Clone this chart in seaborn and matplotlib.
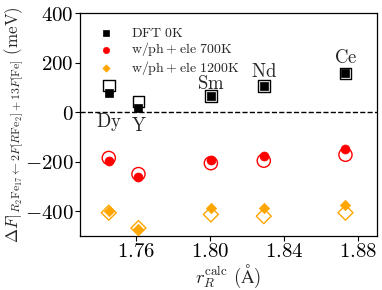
import pandas as pd
import seaborn as sns
import matplotlib
matplotlib.use("Agg")
import matplotlib.pyplot as plt
from matplotlib.ticker import FuncFormatter

# values
elements = ['Dy', 'Y', 'Sm', 'Nd', 'Ce']
r_calc = [1.7455, 1.7615, 1.8005, 1.829, 1.873]

dft_filled = [77, 16, 64, 106, 156]
dft_open = [108, 43, 64, 106, 156]
ph700_filled = [-196, -261, -193, -176, -148]
ph700_open = [-185, -250, -206, -196, -172]
ph1200_filled = [-401, -470, -386, -386, -375]
ph1200_open = [-406, -468, -413, -420, -406]

xticks = [1.76, 1.80, 1.84, 1.88]
yticks = [-400, -200, 0, 200, 400]

sns.set_style("ticks")
plt.rcParams['font.family'] = 'serif'
plt.rcParams['mathtext.fontset'] = 'cm'

fig, ax = plt.subplots(figsize=(3.82, 2.90), dpi=100)
fig.subplots_adjust(left=0.2094, right=0.987, top=0.955, bottom=0.1862)

ax.axhline(0, color='black', ls='--', lw=1.0, zorder=0)

series = [
    (dft_open, dft_filled, 's', 'black', 70, 38, r'$\mathrm{DFT\ 0K}$'),
    (ph700_open, ph700_filled, 'o', 'red', 90, 42, r'$\mathrm{w/ph+ele\ 700K}$'),
    (ph1200_open, ph1200_filled, 'D', 'orange', 58, 28, r'$\mathrm{w/ph+ele\ 1200K}$'),
]

handles = []
for open_vals, filled_vals, mk, col, s_open, s_filled, lab in series:
    df = pd.DataFrame({'r': r_calc, 'open': open_vals, 'filled': filled_vals})
    sns.scatterplot(data=df, x='r', y='open', marker=mk, s=s_open,
                    facecolors='none', edgecolor=col, linewidth=1.0, ax=ax, zorder=3)
    sns.scatterplot(data=df, x='r', y='filled', marker=mk, s=s_filled,
                    color=col, edgecolor=col, linewidth=0.5, ax=ax, zorder=4)
    handles.append(ax.collections[-1])
    handles[-1].set_label(lab)

# element names next to the DFT points
offsets = {'Dy': -21, 'Y': -12.5, 'Sm': 8.5, 'Nd': 10, 'Ce': 11}
for el, x, y in zip(elements, r_calc, dft_filled):
    ax.annotate(r'$\mathrm{%s}$' % el, xy=(x, y), xytext=(0, offsets[el]),
                textcoords='offset points', ha='center', va='center', fontsize=13.5)

ax.legend(handles=handles, loc='upper left', frameon=False, fontsize=10,
          markerscale=0.7, handletextpad=0.8, borderaxespad=0.5, labelspacing=0.05)

ax.set_xlim(1.73, 1.89)
ax.set_ylim(-500, 400)
ax.set_xticks(xticks)
ax.set_yticks(yticks)
ax.xaxis.set_major_formatter(FuncFormatter(lambda v, p: r'$%.2f$' % v))
ax.yaxis.set_major_formatter(FuncFormatter(lambda v, p: r'$%d$' % v))
ax.tick_params(labelsize=15, direction='out', length=3.5, width=0.8, pad=1, colors='black')
for sp in ax.spines.values():
    sp.set_visible(True)
    sp.set_color('black')
    sp.set_linewidth(0.9)

ax.set_xlabel(r'$r_R^{\mathrm{calc}}\ (\mathrm{\AA})$', fontsize=13.5, labelpad=1)
ax.set_ylabel(r'$\Delta F|_{R_2\mathrm{Fe}_{17}\leftarrow 2F[R\mathrm{Fe}_2]+13F[\mathrm{Fe}]}\ (\mathrm{meV})$',
              fontsize=12.2)
ax.yaxis.set_label_coords(-0.185, 0.5)

fig.savefig('out.png', dpi=100)
